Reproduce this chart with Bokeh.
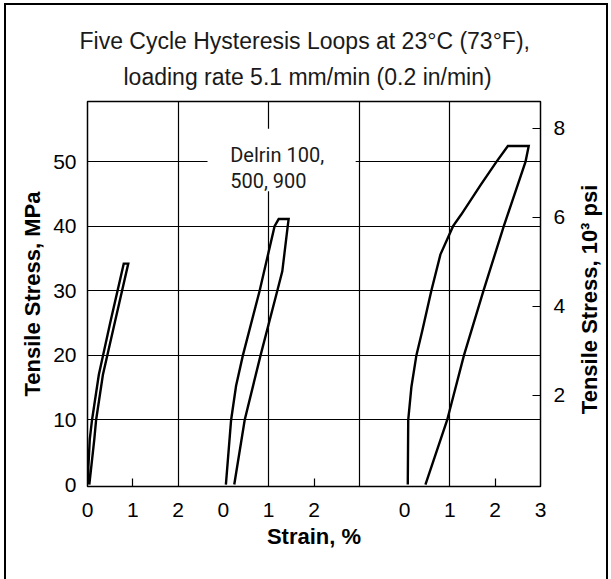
import math
from bokeh.plotting import figure
from bokeh.layouts import row
from bokeh.models import Range1d, LinearAxis, FixedTicker, BoxAnnotation, Label, Title
from bokeh.core.properties import value
from bokeh.embed import file_html
from bokeh.resources import INLINE

# ---------------- data ----------------
MPA_PER_KSI = 6.895
panel_offsets = [0, 3, 7]                     # where each strain sub-scale starts on the shared axis
panel_tick_values = [[0, 1, 2], [0, 1, 2], [0, 1, 2, 3]]
panel_small_tick = [1, 2, 2]                  # tick value in each panel with a short tick mark
x_grid_values = [2, 4, 6, 8]
mpa_ticks = [0, 10, 20, 30, 40, 50]
ksi_ticks = [2, 4, 6, 8]

# panel 1
load_strain_1 = [0.0, 0.05, 0.10, 0.25, 0.50, 0.80]
load_stress_1 = [0, 7, 10, 17, 25, 34.2]
unload_strain_1 = [0.90, 0.60, 0.34, 0.19, 0.15, 0.04]
unload_stress_1 = [34.2, 25, 17, 10, 7, 0]
# panel 2
load_strain_2 = [0.055, 0.17, 0.28, 0.43, 0.80, 1.13, 1.22]
load_stress_2 = [0, 10, 15.3, 20, 30, 40, 41.1]
unload_strain_2 = [1.44, 1.42, 1.30, 1.19, 0.82, 0.47, 0.24]
unload_stress_2 = [41.1, 40, 33, 30, 20, 10, 0]
# panel 3
load_strain_3 = [0.07, 0.08, 0.15, 0.26, 0.39, 0.59, 0.79, 1.07, 1.25, 1.68, 2.03, 2.28]
load_stress_3 = [0, 10, 15.1, 20, 23.8, 30, 35.6, 40, 41.8, 46.4, 50, 52.4]
unload_strain_3 = [2.74, 2.67, 2.19, 1.74, 1.31, 0.94, 0.46]
unload_stress_3 = [52.4, 50, 40, 30, 20, 10, 0]

title_line_1 = "Five Cycle Hysteresis Loops at 23°C (73°F),"
title_line_2 = "loading rate 5.1 mm/min (0.2 in/min)"
right_axis_title = "Tensile Stress, 10³ psi"
note_text = "Delrin 100,\n500, 900"

loops = [
    (load_strain_1, load_stress_1, unload_strain_1, unload_stress_1),
    (load_strain_2, load_stress_2, unload_strain_2, unload_stress_2),
    (load_strain_3, load_stress_3, unload_strain_3, unload_stress_3),
]

# ---------------- figure ----------------
FONT = "Liberation Sans"
W, H = 566, 574
p = figure(width=W, height=H, output_backend="svg", toolbar_location=None,
           x_range=Range1d(0, 10), y_range=Range1d(-0.3, 59.3),
           min_border_left=81, min_border_right=32, min_border_top=96, min_border_bottom=93,
           x_axis_location=None, y_axis_location=None, title=None)
p.background_fill_color = "white"
p.border_fill_color = "white"
p.outline_line_color = "black"
p.outline_line_width = 1.5

for txt, so, off in ((title_line_2, 24, 36), (title_line_1, -9, -8)):
    p.add_layout(Title(text=txt, align="left", text_font=FONT, text_font_size="23px",
                       text_font_style="normal", text_color="#1a1a1a", standoff=so,
                       offset=off, text_line_height=1.0), "above")

# shared strain axis
xt, xl = [], {}
for off, vals in zip(panel_offsets, panel_tick_values):
    for v in vals:
        xt.append(off + v)
        xl[off + v] = str(v)
minor = [off + v for off, v in zip(panel_offsets, panel_small_tick)]
xaxis = LinearAxis(ticker=FixedTicker(ticks=xt, minor_ticks=minor),
                   major_label_overrides=xl, axis_label="Strain, %",
                   axis_line_color=None, major_tick_in=0, major_tick_out=0,
                   minor_tick_in=8, minor_tick_out=0, minor_tick_line_color="black",
                   minor_tick_line_width=1.2, major_label_standoff=16,
                   major_label_text_font=FONT, major_label_text_font_size="21px",
                   major_label_text_color="black", axis_label_text_font=FONT,
                   axis_label_text_font_size="22px", axis_label_text_font_style="bold",
                   axis_label_text_color="black", axis_label_standoff=4)
p.add_layout(xaxis, "below")

yaxis = LinearAxis(ticker=FixedTicker(ticks=mpa_ticks), axis_label="Tensile Stress, MPa",
                   axis_line_color=None, major_tick_in=0, major_tick_out=0,
                   minor_tick_in=0, minor_tick_out=0, major_label_standoff=11,
                   major_label_text_font=FONT, major_label_text_font_size="21px",
                   major_label_text_color="black", axis_label_text_font=FONT,
                   axis_label_text_font_size="22px", axis_label_text_font_style="bold",
                   axis_label_text_color="black", axis_label_standoff=5)
p.add_layout(yaxis, "left")

ksi_start, ksi_end = -0.3 / MPA_PER_KSI, 59.3 / MPA_PER_KSI
p.extra_y_ranges = {"ksi": Range1d(ksi_start, ksi_end)}
raxis = LinearAxis(y_range_name="ksi", ticker=FixedTicker(ticks=ksi_ticks),
                   axis_line_color=None, major_tick_in=8, major_tick_out=0,
                   major_tick_line_color="black", major_tick_line_width=1.2,
                   minor_tick_in=0, minor_tick_out=0, major_label_standoff=13,
                   major_label_text_font=FONT, major_label_text_font_size="21px",
                   major_label_text_color="black")
p.add_layout(raxis, "right")

# grid
p.xgrid.ticker = FixedTicker(ticks=x_grid_values)
p.ygrid.ticker = FixedTicker(ticks=mpa_ticks[1:])
for g in (p.xgrid, p.ygrid):
    g.grid_line_color = "black"
    g.grid_line_width = 1.2
    g.grid_line_alpha = 1.0

# note box covering grid lines
p.add_layout(BoxAnnotation(left=2.65, right=5.92, bottom=45.4, top=55.1,
                           fill_color="white", fill_alpha=1.0, line_color=None))
p.add_layout(Label(x=3.15, y=52.9, text=note_text,
                   text_font="Roboto",
                   text_font_size="20px", text_baseline="top", text_align="left",
                   text_color="#1a1a1a", text_line_height=1.1))

# loops
for off, (ls, lf, us, uf) in zip(panel_offsets, loops):
    xs = [s + off for s in ls] + [s + off for s in us]
    ys = list(lf) + list(uf)
    p.line(xs, ys, line_color="black", line_width=2.4, line_join="miter")

# narrow strip on the right holding the secondary axis title, reading bottom to top
p2 = figure(width=34, height=H, output_backend="svg", toolbar_location=None,
            x_range=Range1d(0, 1), y_range=Range1d(0, 1), min_border=0,
            x_axis_location=None, y_axis_location=None, title=None)
p2.outline_line_color = None
p2.grid.visible = False
p2.background_fill_color = "white"
p2.border_fill_color = "white"
p2.text(x=[0.5], y=[0.486], text=[right_axis_title], angle=math.pi / 2,
        text_align="center", text_baseline="middle", text_font=value(FONT),
        text_font_size="22px", text_font_style="bold", text_color="black")

layout = row(p, p2, spacing=0,
             styles={"margin-left": "4px", "margin-top": "3px",
                     "border-left": "2px solid black", "border-top": "2px solid black",
                     "border-right": "2px solid black"})

open("out.html", "w").write(file_html(layout, INLINE))
